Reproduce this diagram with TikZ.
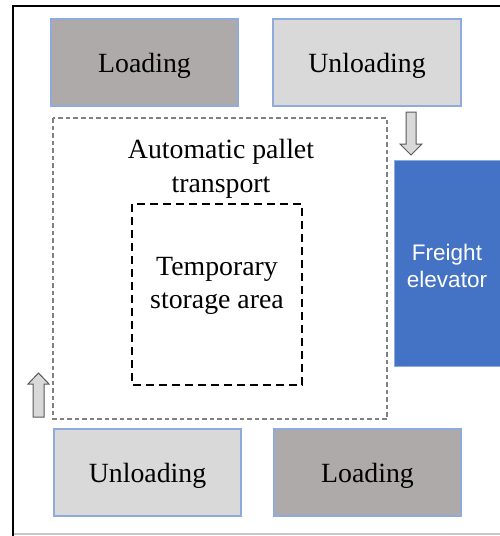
\documentclass[tikz,border=0pt]{standalone}
\usepackage{fontspec}
\setmainfont{Liberation Serif}
\newfontfamily\labelsans{Liberation Sans}
\definecolor{loadgray}{RGB}{174,170,170}
\definecolor{unloadgray}{RGB}{217,217,217}
\definecolor{edgeblue}{RGB}{143,170,220}
\definecolor{liftblue}{RGB}{68,114,196}
\definecolor{zonegray}{RGB}{128,128,128}
\definecolor{arrowedge}{RGB}{89,89,89}
\definecolor{floorgray}{RGB}{200,200,200}
\begin{document}
\begin{tikzpicture}[x=1pt,y=-1pt,
  dock/.style={draw=edgeblue,line width=1.2pt,inner sep=0pt,
    minimum width=187pt,minimum height=87pt},
  docktext/.style={inner sep=0pt,font=\fontsize{27.8}{33.4}\selectfont},
  loadbox/.style={dock,fill=loadgray},
  unloadbox/.style={dock,fill=unloadgray},
  zone/.style={draw=zonegray,line width=1.3pt,dash pattern=on 4.5pt off 3pt},
  store/.style={draw=black,line width=1.8pt,dash pattern=on 8pt off 5pt},
  lbl/.style={align=center,font=\fontsize{27.8}{33.4}\selectfont},
  blockarrow/.style={draw=arrowedge,fill=unloadgray,line width=1pt,line join=miter}]
  \useasboundingbox (0,0) rectangle (500,536);
  % page frame
  \draw[black,line width=2pt] (12,6) -- (500,6);
  \draw[black,line width=2pt] (13,5) -- (13,536);
  \draw[floorgray,line width=1.5pt] (14,534) -- (500,534);

  % docks
  \node[loadbox] (loadTop) at (144.5,62.5) {};
  \node[unloadbox,minimum width=188pt] (unloadTop) at (367,62.5) {};
  \node[unloadbox] (unloadBot) at (147.5,472.5) {};
  \node[loadbox] (loadBot) at (367.5,472.5) {};
  \node[docktext] (loadTopText) at ([yshift=-3.5pt]loadTop.center) {Loading};
  \node[docktext] (unloadTopText) at ([yshift=-3.5pt]unloadTop.center) {Unloading};
  \node[docktext] (unloadBotText) at ([yshift=-3.5pt]unloadBot.center) {Unloading};
  \node[docktext] (loadBotText) at ([yshift=-3.5pt]loadBot.center) {Loading};

  % transport zone and temporary storage
  \draw[zone] (53,118) rectangle (387,419);
  \draw[store] (132,204) rectangle (302,385);
  \node[lbl] (transport) at (221,169) {Automatic pallet\\transport};
  \node[lbl] (storage) at (217,286) {Temporary\\storage area};

  % freight elevator
  \node[fill=liftblue,draw=edgeblue,line width=0.6pt,minimum width=108pt,minimum height=206pt,inner sep=0pt] (lift) at (448,263) {};
  \node[text=white,align=center,font=\labelsans\fontsize{22.5}{27}\selectfont] (liftText)
        at ([xshift=-1pt,yshift=-3pt]lift.center) {Freight\\elevator};

  % flow arrows
  \draw[blockarrow] (406,112) -- (416,112) -- (416,144) -- (422,144) -- (411,155)
        -- (400,144) -- (406,144) -- cycle;
  \draw[blockarrow] (33,417) -- (44,417) -- (44,384) -- (49,384) -- (38.5,373)
        -- (28,384) -- (33,384) -- cycle;
\end{tikzpicture}
\end{document}
